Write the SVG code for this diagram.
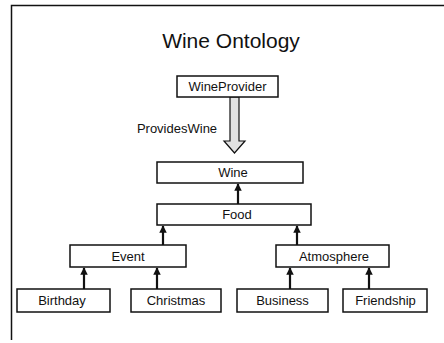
<svg xmlns="http://www.w3.org/2000/svg" width="444" height="343" viewBox="0 0 444 343">
<style>
.box{fill:#fff;stroke:#111;stroke-width:1.5}
.lbl{font-family:"Liberation Sans",Arial,sans-serif;font-size:13px;fill:#111;text-anchor:middle}
.con{stroke:#111;stroke-width:2.2;fill:none}
</style>
<defs>
<marker id="ah" viewBox="0 0 10 10" refX="9" refY="5" markerWidth="3.4" markerHeight="3.4" orient="auto" markerUnits="strokeWidth">
<path d="M0,0 L10,5 L0,10 Z" fill="#111"/>
</marker>
</defs>
<rect width="444" height="343" fill="#fff"/>
<g id="frame">
<path d="M11.5,340 V5.5 H444" fill="none" stroke="#111" stroke-width="1.5"/>
</g>
<text x="231" y="48" font-family="'Liberation Sans',Arial,sans-serif" font-size="21" fill="#111" text-anchor="middle">Wine Ontology</text>
<g id="connectors">
<path d="M230,97 V141 H224 L234.5,153 L245,141 H239 V97 Z" fill="#e2e2e2" stroke="#111" stroke-width="1.2"/>
<text x="177" y="133" class="lbl">ProvidesWine</text>
<line class="con" x1="238" y1="204" x2="238" y2="184" marker-end="url(#ah)"/>
<line class="con" x1="163" y1="245" x2="163" y2="226" marker-end="url(#ah)"/>
<line class="con" x1="297" y1="245" x2="297" y2="226" marker-end="url(#ah)"/>
<line class="con" x1="84" y1="289" x2="84" y2="268" marker-end="url(#ah)"/>
<line class="con" x1="157" y1="289" x2="157" y2="268" marker-end="url(#ah)"/>
<line class="con" x1="290" y1="289" x2="290" y2="268" marker-end="url(#ah)"/>
<line class="con" x1="369" y1="289" x2="369" y2="268" marker-end="url(#ah)"/>
</g>
<g id="WineProvider"><rect class="box" x="177" y="76" width="101" height="21"/><text class="lbl" x="227.5" y="91">WineProvider</text></g>
<g id="Wine"><rect class="box" x="157" y="162" width="146" height="21"/><text class="lbl" x="233" y="177">Wine</text></g>
<g id="Food"><rect class="box" x="157" y="204" width="154" height="21"/><text class="lbl" x="237" y="219">Food</text></g>
<g id="Event"><rect class="box" x="70" y="245" width="116" height="22"/><text class="lbl" x="128" y="261">Event</text></g>
<g id="Atmosphere"><rect class="box" x="276" y="245" width="113" height="22"/><text class="lbl" x="334" y="261">Atmosphere</text></g>
<g id="Birthday"><rect class="box" x="17" y="289" width="93" height="23"/><text class="lbl" x="62" y="305">Birthday</text></g>
<g id="Christmas"><rect class="box" x="131" y="289" width="90" height="23"/><text class="lbl" x="176" y="305">Christmas</text></g>
<g id="Business"><rect class="box" x="237" y="289" width="91" height="23"/><text class="lbl" x="282.5" y="305">Business</text></g>
<g id="Friendship"><rect class="box" x="343" y="289" width="84" height="23"/><text class="lbl" x="385.5" y="305">Friendship</text></g>
</svg>
